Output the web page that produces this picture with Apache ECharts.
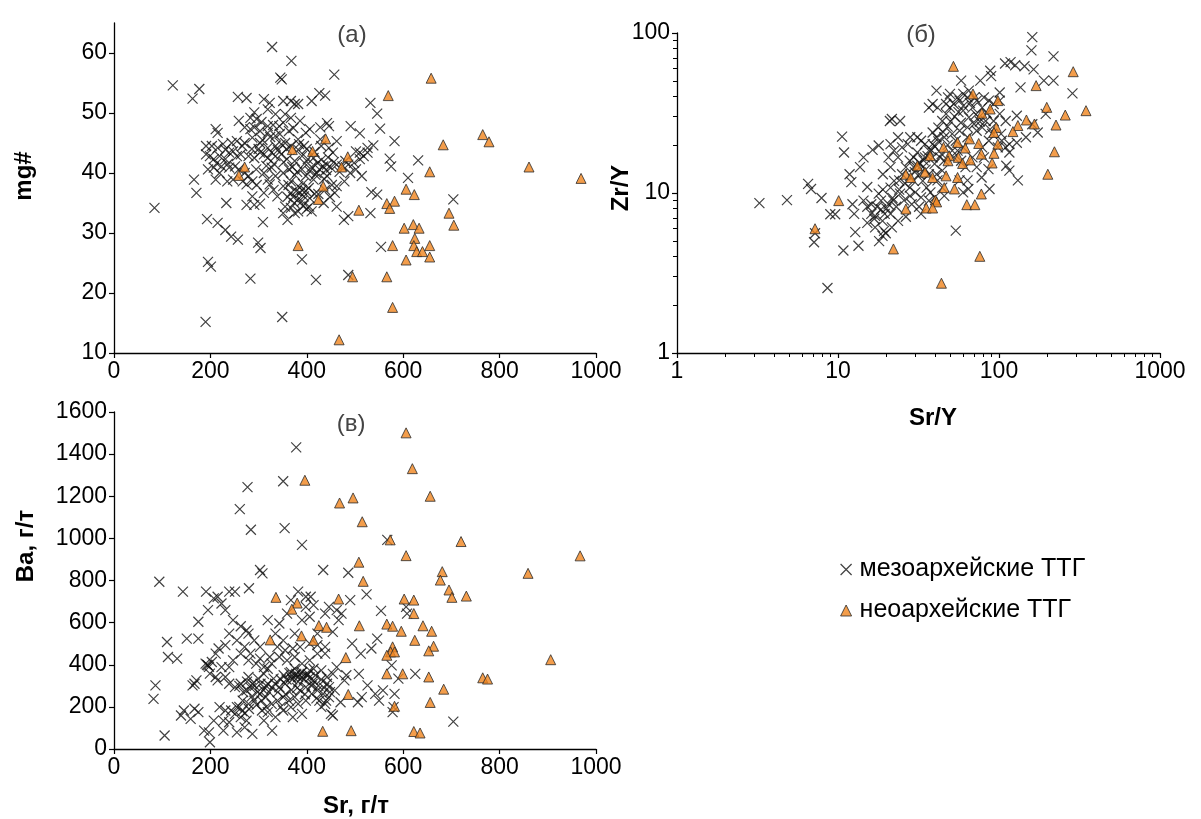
<!DOCTYPE html>
<html><head><meta charset="utf-8">
<script src="https://cdn.jsdelivr.net/npm/echarts@6/dist/echarts.min.js"></script>
<style>html,body{margin:0;padding:0;background:#fff}#c{width:1201px;height:819px}</style>
</head><body><div id="c"></div>
<script>
// ---- DATA ----
const seriesNames = ['мезоархейские ТТГ', 'неоархейские ТТГ'];
const panelLabels = ['(а)', '(б)', '(в)'];
const axisTitles = ['mg#', 'Zr/Y', 'Sr/Y', 'Ba, г/т', 'Sr, г/т'];
const srTicks = [0, 200, 400, 600, 800, 1000];
const mgTicks = [10, 20, 30, 40, 50, 60];
const baTicks = [0, 200, 400, 600, 800, 1000, 1200, 1400, 1600];

// (a) Sr vs mg#
const mesoA = [
[84,34.2],[122,54.6],[163,52.4],[177,54.0],[328,61.0],[368,58.7],[345,55.9],[348,55.6],[457,56.4],[257,52.7],[275,52.5],
[166,38.9],[171,36.7],[193,32.3],[215,31.7],[233,35.0],[231,30.5],[243,29.4],[257,28.9],[195,25.2],[201,24.4],[190,15.2],
[283,22.4],[349,16.0],[390,25.6],[419,22.2],[486,23.0],[299,28.4],[304,27.5],[309,31.8],[477,32.2],[486,32.8],[532,33.3],
[554,27.7],[704,35.6],[610,39.2],[631,42.1],[582,45.3],[572,42.4],[575,41.1],[552,47.4],[546,49.9],[532,51.7],[510,46.6],
[491,47.8],[442,48.3],[438,52.9],[426,53.3],[410,52.0],[534,36.8],[546,36.4],[291,34.7],[303,34.9],[275,34.7],[351,33.3],
[360,32.2],[355,34.4],[405,34.4],[410,33.6],[435,35.0],[462,34.4],[458,36.7],[452,38.0],[514,39.5],[502,40.6],[510,43.4],
[526,44.2],[538,44.6],[502,43.6],
[311,52.3],[323,51.7],[319,50.6],[351,52.0],[367,52.0],[375,51.5],[382,51.5],[291,50.1],[283,49.2],[335,49.8],[355,49.8],
[367,49.2],[386,48.7],[259,48.7],[271,47.6],[283,47.3],[291,47.6],[303,47.0],[211,47.3],[215,46.7],[319,46.7],[335,46.2],
[382,45.6],[398,46.7],[406,47.3],[428,47.6],[446,47.8],[428,45.6],[462,45.3],[255,45.3],[271,45.0],[287,45.9],[303,45.0],
[319,44.2],[335,44.5],[347,44.8],[355,45.0],[367,44.5],[382,43.9],[394,44.5],[430,44.5],[446,44.2],[454,43.4],[191,44.5],
[203,44.5],[215,44.2],[231,43.9],[239,43.4],[247,43.6],[191,43.1],[199,42.8],[207,42.3],[219,42.8],[231,42.3],[255,42.8],
[263,43.1],[279,42.8],[291,42.5],[303,43.4],[311,43.1],[319,42.5],[327,43.4],[335,42.8],[347,43.1],[359,42.3],[375,42.0],
[390,42.8],[402,42.3],[414,42.5],[422,41.7],[434,41.1],[442,41.4],[450,40.9],[462,41.4],[474,41.1],[486,41.4],[498,41.7],
[518,42.8],[526,43.4],[510,42.3],[195,40.6],[207,40.9],[219,40.0],[211,38.9],[223,41.1],[239,40.9],[251,41.1],[259,40.6],
[271,40.0],[279,39.5],[287,38.6],[275,38.1],[267,38.6],[295,40.6],[311,40.0],[327,40.9],[319,38.9],[335,39.5],[351,40.0],
[363,40.6],[375,39.7],[390,40.6],[398,39.5],[406,40.3],[418,39.7],[426,40.6],[414,38.9],[367,38.6],[351,37.8],[331,37.2],
[311,36.7],[339,36.1],[367,36.7],[378,37.0],[386,36.7],[394,36.1],[382,35.6],[374,35.0],[390,35.3],[398,37.0],[406,35.8],
[367,34.2],[375,33.3],[382,33.6],[382,37.8],[442,39.5],[438,37.2],[462,37.8],[478,38.6],[490,40.0],[319,47.8],[343,47.8],
[363,47.0],[351,48.4],[247,38.9],[235,38.6],[287,36.1],[323,38.1],
[300,44.0],[308,45.5],[316,41.2],[324,46.0],[332,41.5],[340,43.8],[344,46.5],[352,41.8],[358,44.0],[362,38.0],[370,41.0],
[372,47.5],[380,40.2],[384,44.8],[392,38.2],[396,41.6],[400,44.0],[404,37.5],[410,41.0],[416,43.5],[420,40.0],[424,36.5],
[430,42.2],[436,39.0],[440,40.5],[444,42.6],[448,36.0],[456,41.8],[468,40.2],[480,42.0],[296,49.0],[306,48.5],[330,48.0],
[296,38.0],[286,44.0],[266,44.5],[244,45.0],[236,41.5],[226,44.8],[213,41.6],[360,36.0],[372,36.0],[390,37.2],[400,34.0],
[416,36.5],[392,34.5]
];
const neoA = [
[658,55.8],[569,52.9],[765,46.4],[778,45.2],[683,44.7],[439,45.7],[370,43.9],[412,43.6],[485,42.7],[472,41.0],[271,41.0],
[259,39.6],[861,41.0],[969,39.1],[655,40.2],[434,37.8],[424,35.6],[606,37.3],[623,36.4],[566,34.9],[582,35.3],[572,34.1],
[508,33.8],[695,33.3],[705,31.3],[602,30.8],[621,31.4],[633,30.8],[624,29.1],[622,27.9],[578,27.9],[628,26.9],[640,26.9],
[655,27.9],[606,25.5],[655,26.0],[382,27.9],[495,22.7],[566,22.7],[578,17.6],[467,12.2]
];

// (б) Sr/Y vs Zr/Y
const mesoB = [
[3.25,8.65],[4.82,9.02],[6.52,11.4],[6.8,10.6],[7.9,9.3],[8.96,7.37],[9.6,7.37],[7.1,4.92],[7.2,5.6],[8.6,2.55],[10.6,22.5],
[10.9,17.9],[10.8,4.37],[11.8,13.1],[12.1,11.7],[12.3,8.5],[12.6,7.4],[12.8,5.7],[13.4,4.68],[13.7,14.5],[14.4,16.7],[15.2,10.9],
[16.4,18.6],[17.9,19.8],[18.9,5.4],[19.3,5.8],[21.0,28.2],[21.6,29.0],[24.3,28.2],[21.2,14.5],[23.6,22.3],[28.1,22.3],[40.9,43.6],
[36.7,34.2],[38.7,36.0],[41.5,34.2],[58.2,50.4],[76.5,50.4],[88.2,58.1],[89.4,53.8],[109,64.5],[118,65.8],[126,62.9],[144,62.0],
[161,94.2],[159,77.9],[164,59.3],[218,71.5],[190,50.4],[218,50.4],[136,45.7],[101,42.5],[286,41.9],[129,30.4],[147,22.3],[174,23.9],
[161,26.9],[195,31.2],[111,14.8],[116,13.8],[131,12.0],[87.3,10.6],[98.4,19.3],[110,19.3],[116,17.9],[53.9,5.82],[64.5,10.6],
[78,12.5],[86,14.1],
[14.4,8.96],[15.2,8.2],[16.1,7.4],[16.8,6.9],[17.5,8.2],[18.5,8.96],[19.5,7.4],[20.6,8.5],[21.8,9.3],[23.0,8.2],[24.3,9.9],
[25.7,9.0],[17.0,6.1],[18.9,6.7],[21.2,7.4],[15.2,6.5],[16.1,8.5],[17.9,9.9],[21.2,10.8],[22.3,11.9],[25.0,13.1],[26.4,14.5],
[27.9,15.9],[29.5,16.7],[31.1,17.9],[19.0,13.1],[20.6,16.7],[22.3,18.4],[25.0,19.3],[27.1,20.2],[21.2,20.2],[23.6,16.7],[29.5,14.5],
[31.9,13.1],[33.6,11.9],[35.5,10.8],[37.5,10.1],[39.8,9.4],[29.5,11.9],[27.9,10.8],[30.2,10.1],[32.8,9.4],[34.7,16.7],[36.7,18.4],
[38.7,20.2],[40.9,22.3],[38.7,23.9],[42.0,25.6],[44.4,28.2],[46.9,31.2],[49.6,34.2],[52.4,36.0],[56.9,37.8],[63.7,39.6],[70.4,39.6],
[59.9,32.7],[65.0,29.7],[68.4,34.2],[74.8,29.7],[78.6,34.2],[82.7,28.2],[78.6,25.7],[72.7,24.5],[63.7,25.7],[56.9,24.5],[51.2,23.4],
[45.7,22.3],[53.9,21.2],[59.9,19.3],[63.7,22.3],[51.2,18.4],[43.0,16.7],[39.8,15.2],[44.4,13.8],[41.5,12.0],[61.9,14.5],[68.4,16.7],
[72.7,14.5],[80.6,16.7],[86.5,21.2],[90.6,23.4],[103,23.4],[110,28.2],[101,31.2],[92.6,28.2],[104,21.2],[116,20.2],[129,20.6],
[78.6,19.3],[56.9,12.0],[63.7,12.0],[59.9,10.1],[45.7,9.6],[44.4,10.8],[36.7,8.96],[31.9,8.2],[28.7,8.5],[26.4,7.1],[23.6,6.7],
[21.6,6.1],[19.8,5.6],[18.0,5.0],[32.8,7.4],[31.1,14.8],[33.6,14.5],[36.7,13.1],[41,13.1],[45.7,15.9],[52.4,16.7],[55.3,18.4],
[58.2,15.9],[38.7,16.7],[34.7,20.2],[32.8,21.2],[31.1,22.3],[46.9,36.0],[48.2,39.6],[49.6,41.6],[55.3,39.6],[60,41.6],[65,43.6],
[72.7,37.8],[80.6,39.6],[86.5,37.8],[92.6,36.0],[101,37.8],
[20,8.0],[22,9.0],[24,10.5],[26,11.5],[28,12.8],[30,13.5],[32,15.5],[34,16.0],[36,17.0],[38,18.5],[40,19.5],[42,21.0],
[45,24.0],[48,26.0],[50,28.0],[53,30.0],[56,32.0],[60,35.0],[66,36.5],[72,31.0],[76,28.0],[84,31.5],[88,25.0],[70,27.0],
[58,27.5],[48,20.0],[44,17.5],[35,14.0],[28,9.6],[24,12.0],[19,10.5],[17,7.2],[18.5,7.9]
];
const neoB = [
[52.1,61.9],[289,57.3],[170,46.9],[68.9,41.6],[98.4,37.8],[88.2,33.5],[198,34.3],[347,32.7],[78.2,31.5],[258,30.7],[148,28.6],
[131,26.4],[166,27.0],[226,26.6],[96.2,25.7],[122,24.2],[93.1,23.9],[98.4,20.2],[74.8,20.4],[65.6,21.8],[55.3,20.7],[45.2,19.3],
[61.7,19.1],[221,18.1],[93.1,17.7],[77.7,17.5],[37.3,17.1],[49.0,17.1],[55.9,16.7],[66.3,16.1],[48.2,15.9],[59.4,15.3],[90.6,15.4],
[31.1,14.8],[34.7,13.5],[26.4,13.1],[46.9,12.8],[201,13.1],[28.3,12.5],[38.7,12.5],[55.3,12.5],[45.7,10.8],[52.9,10.6],[10.1,8.96],
[40.2,9.04],[41,8.8],[77.7,9.86],[35.3,8.06],[38.7,8.06],[63.1,8.45],[70.8,8.45],[26.4,7.94],[7.2,5.98],[22.1,4.47],[76.0,4.02],
[43.9,2.73]
];

// (в) Sr vs Ba
const mesoC = [
[378,1432],[351,1271],[277,1243],[261,1139],[284,1041],[354,1049],[390,969],[567,993],[94,794],[143,747],[191,747],[251,747],
[280,763],[303,850],[308,834],[434,850],[486,837],[524,734],[490,707],[554,656],[608,643],[606,675],[398,723],[408,723],[414,683],
[382,747],[215,723],[223,691],[195,659],[175,604],[175,524],[151,524],[110,508],[112,437],[131,429],[86,302],[82,238],[105,64],
[197,79],[199,32],[187,87],[145,183],[139,159],[167,191],[175,175],[159,143],[167,310],[171,326],[163,302],[195,397],[203,413],
[211,453],[217,477],[199,358],[211,342],[215,326],[578,175],[580,199],[582,262],[576,397],[590,334],[625,357],[704,130],[454,159],
[470,222],[482,350],[508,357],[494,500],[512,453],[534,477],[546,524],[526,302],[542,262],[550,230],[558,278],[514,246],[506,222],
[454,556],[466,612],[472,643],[462,659],
[239,747],[207,715],[231,659],[247,612],[263,583],[275,564],[239,548],[255,516],[231,493],[279,548],[291,516],[303,485],[319,612],
[335,548],[351,516],[359,643],[367,707],[343,596],[375,548],[390,612],[398,675],[406,628],[422,548],[438,643],[446,675],[438,453],
[422,453],[406,421],[390,405],[375,437],[359,421],[343,437],[327,405],[311,389],[295,405],[279,421],[263,453],[247,421],[239,389],
[223,389],[231,342],[239,310],[251,294],[263,310],[275,278],[287,310],[299,334],[311,357],[319,310],[331,334],[343,294],[355,310],
[367,342],[378,357],[390,342],[402,357],[414,326],[430,373],[442,342],[446,294],[434,262],[422,278],[410,262],[398,294],[386,278],
[375,246],[363,230],[351,246],[339,230],[327,214],[315,246],[303,262],[291,230],[279,214],[267,230],[255,199],[243,183],[231,183],
[251,167],[263,151],[275,135],[271,103],[287,72],[328,87],[311,135],[335,151],[351,183],[367,199],[382,214],[398,230],[426,230],
[438,214],[446,246],[458,278],[454,357],[462,389],[478,326],[450,167],[219,199],[207,135],[227,135],[239,127],[227,87],[255,79],
[319,175],[307,183],[371,151],[390,167],[279,342],[323,437],[339,485],[355,469],[371,477],[386,485],[406,500],[422,493],[438,485],
[271,485],[283,453],[303,429],[319,381],[375,381],[390,365],[406,373],[414,381],[367,365],[382,342],[193,400],[197,390],[190,405],
[260,300],[268,270],[276,320],[284,290],[292,300],[298,270],[304,310],[310,280],[316,300],[322,270],[328,290],[334,310],
[340,270],[346,330],[352,350],[358,330],[364,360],[370,330],[376,350],[382,320],[388,360],[394,330],[400,350],[406,340],
[412,310],[418,350],[424,300],[430,330],[436,290],[442,310],[448,270],[260,200],[266,180],[272,170],[280,190],[286,250],
[296,210],[306,230],[316,200],[346,200],[356,260],[368,280],[380,290],[396,260],[410,300],[420,240],[430,200],[440,230]
];
const neoC = [
[606,1501],[619,1331],[396,1276],[496,1192],[468,1168],[656,1200],[515,1079],[573,993],[720,985],[606,918],[967,917],[508,887],
[859,834],[681,842],[677,802],[517,796],[695,755],[701,720],[731,726],[336,720],[466,712],[602,712],[622,707],[380,693],[369,664],
[622,643],[425,586],[441,578],[509,585],[566,593],[578,583],[596,559],[641,585],[659,559],[324,518],[389,537],[414,516],[624,516],
[663,488],[653,466],[578,485],[574,461],[566,445],[582,461],[481,434],[906,424],[566,357],[599,357],[653,342],[765,338],[775,332],
[684,284],[486,259],[582,203],[656,221],[433,84],[492,87],[622,83],[635,76]
];

// ---- CHART ----
const FONT = 'Liberation Sans, Arial, sans-serif';
const crossPath = 'path://M0,0L10,10M10,0L0,10';
const crossStyle = {color: '#111', borderColor: '#111', borderWidth: 1.2};
const triStyle = {color: '#F0841E', borderColor: '#2a2a2a', borderWidth: 1};
const plain = v => String(v);
const lbl = {color: '#000', fontSize: 23, fontFamily: FONT, margin: 7, formatter: plain};
const axLine = {show: true, onZero: false, lineStyle: {color: '#000', width: 1.3}};
const tick = {show: true, length: 5, lineStyle: {color: '#000', width: 1.2}};

const minorVals = [];
for (let d = 0; d < 3; d++) for (let k = 2; k <= 9; k++) minorVals.push(d + Math.log10(k));
const minorValsY = minorVals.filter(v => v < 2);

const title = (txt, x, y, rot) => ({type: 'text', x: x, y: y, rotation: rot ? Math.PI / 2 : 0,
  style: {text: txt, x: 0, y: 0, fill: '#000', fontSize: 24, fontWeight: 'bold', fontFamily: FONT, align: 'center', verticalAlign: 'middle'}});
const plabel = (txt, x, y) => ({type: 'text', x: x, y: y,
  style: {text: txt, x: 0, y: 0, fill: '#444', fontSize: 24, fontFamily: FONT, align: 'center', verticalAlign: 'middle'}});

const chart = echarts.init(document.getElementById('c'), null, {renderer: 'canvas'});
chart.setOption({
  animation: false,
  backgroundColor: '#fff',
  textStyle: {fontFamily: FONT},
  grid: [
    {left: 114, top: 23, width: 482, height: 330},
    {left: 677, top: 33, width: 483, height: 320},
    {left: 114, top: 412, width: 482, height: 337}
  ],
  xAxis: [
    {gridIndex: 0, type: 'value', min: 0, max: 1000, interval: 200, axisLine: axLine, axisTick: tick, axisLabel: lbl, splitLine: {show: false}},
    {gridIndex: 1, type: 'log', logBase: 10, min: 1, max: 1000, axisLine: axLine, axisTick: tick, axisLabel: lbl, splitLine: {show: false}, minorTick: {show: false}},
    {gridIndex: 2, type: 'value', min: 0, max: 1000, interval: 200, axisLine: axLine, axisTick: tick, axisLabel: lbl, splitLine: {show: false}},
    {gridIndex: 1, type: 'value', min: 0, max: 3, position: 'bottom', axisLine: {show: false}, axisLabel: {show: false}, splitLine: {show: false},
      axisTick: {show: true, length: 4, customValues: minorVals, lineStyle: {color: '#000', width: 1}}}
  ],
  yAxis: [
    {gridIndex: 0, type: 'value', min: 10, max: 65, axisLine: axLine, splitLine: {show: false},
      axisTick: Object.assign({}, tick, {customValues: mgTicks}), axisLabel: Object.assign({}, lbl, {customValues: mgTicks})},
    {gridIndex: 1, type: 'log', logBase: 10, min: 1, max: 100, axisLine: axLine, axisTick: tick, axisLabel: lbl, splitLine: {show: false}, minorTick: {show: false}},
    {gridIndex: 2, type: 'value', min: 0, max: 1600, interval: 200, axisLine: axLine, axisTick: tick, axisLabel: lbl, splitLine: {show: false}},
    {gridIndex: 1, type: 'value', min: 0, max: 2, position: 'left', axisLine: {show: false}, axisLabel: {show: false}, splitLine: {show: false},
      axisTick: {show: true, length: 4, customValues: minorValsY, lineStyle: {color: '#000', width: 1}}}
  ],
  legend: {
    orient: 'vertical', left: 835, top: 552, itemWidth: 11, itemHeight: 11, itemGap: 16,
    textStyle: {fontSize: 25, fontFamily: FONT, color: '#000', padding: [0, 0, 0, 3]},
    data: [
      {name: seriesNames[0], icon: crossPath, itemStyle: crossStyle},
      {name: seriesNames[1], icon: 'triangle', itemStyle: triStyle}
    ]
  },
  graphic: [
    plabel(panelLabels[0], 352, 35),
    plabel(panelLabels[1], 921, 35),
    plabel(panelLabels[2], 351, 424),
    title(axisTitles[0], 24, 176, true),
    title(axisTitles[1], 621, 188, true),
    title(axisTitles[2], 933, 418, false),
    title(axisTitles[3], 26, 546, true),
    title(axisTitles[4], 356, 806, false)
  ],
  series: [
    {name: seriesNames[0], type: 'scatter', xAxisIndex: 0, yAxisIndex: 0, data: mesoA, symbol: crossPath, symbolSize: 10, itemStyle: crossStyle, z: 2},
    {name: seriesNames[1], type: 'scatter', xAxisIndex: 0, yAxisIndex: 0, data: neoA, symbol: 'triangle', symbolSize: 10, itemStyle: triStyle, z: 3},
    {name: seriesNames[0], type: 'scatter', xAxisIndex: 1, yAxisIndex: 1, data: mesoB, symbol: crossPath, symbolSize: 10, itemStyle: crossStyle, z: 2},
    {name: seriesNames[1], type: 'scatter', xAxisIndex: 1, yAxisIndex: 1, data: neoB, symbol: 'triangle', symbolSize: 10, itemStyle: triStyle, z: 3},
    {name: seriesNames[0], type: 'scatter', xAxisIndex: 2, yAxisIndex: 2, data: mesoC, symbol: crossPath, symbolSize: 10, itemStyle: crossStyle, z: 2},
    {name: seriesNames[1], type: 'scatter', xAxisIndex: 2, yAxisIndex: 2, data: neoC, symbol: 'triangle', symbolSize: 10, itemStyle: triStyle, z: 3}
  ]
});
</script></body></html>
